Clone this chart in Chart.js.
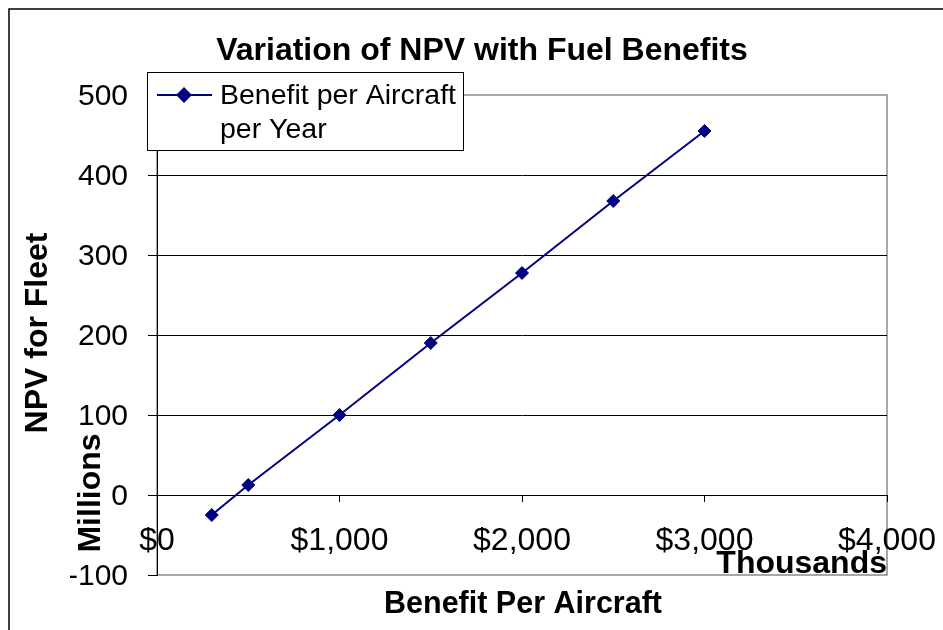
<!DOCTYPE html>
<html>
<head>
<meta charset="utf-8">
<script src="https://cdn.jsdelivr.net/npm/chart.js@4"></script>
<style>
  html, body { margin: 0; padding: 0; background: #ffffff; }
  #wrap { width: 943px; height: 630px; position: relative; }
</style>
</head>
<body>
<div id="wrap"><canvas id="npv" width="943" height="630"></canvas></div>
<script>
// Benefit per aircraft per year ($ thousands) and resulting fleet NPV ($ millions)
const benefitPerAircraft = [300, 500, 1000, 1500, 2000, 2500, 3000];
const npvForFleet = [-25, 12.5, 100, 190, 277.5, 367.5, 455];

// Axis ticks
const xTickValues = [0, 1000, 2000, 3000, 4000];
const yTickValues = [-100, 0, 100, 200, 300, 400, 500];

// Text
const chartTitle = 'Variation of NPV with Fuel Benefits';
const seriesNameLines = ['Benefit per Aircraft', 'per Year'];
const xTitle = 'Benefit Per Aircraft';
const xUnit = 'Thousands';
const yTitle = 'NPV for Fleet';
const yUnit = 'Millions';

const FONT = '"Liberation Sans", Arial, Helvetica, sans-serif';
const NAVY = '#000080';
const GREY = '#8a8a8a';
const Y_AXIS_WIDTH = 87;

const points = benefitPerAircraft.map((x, i) => ({ x: x, y: npvForFleet[i] }));

// Page background, outer frame and grey plot-area outline
const framePlugin = {
  id: 'frame',
  beforeDraw(chart) {
    const ctx = chart.ctx;
    const a = chart.chartArea;
    ctx.save();
    ctx.fillStyle = '#ffffff';
    ctx.fillRect(0, 0, chart.width, chart.height);
    ctx.strokeStyle = '#000000';
    ctx.lineWidth = 1.5;
    ctx.strokeRect(9, 9, chart.width + 40, chart.height + 40);
    ctx.strokeStyle = GREY;
    ctx.lineWidth = 1.5;
    ctx.strokeRect(a.left, a.top, a.right - a.left, a.bottom - a.top);
    ctx.restore();
  }
};

// Titles, unit captions and the boxed legend
const annotatePlugin = {
  id: 'annotate',
  afterDraw(chart) {
    const ctx = chart.ctx;
    ctx.save();
    ctx.fillStyle = '#000000';
    ctx.textBaseline = 'alphabetic';

    ctx.font = 'bold 32px ' + FONT;
    ctx.textAlign = 'center';
    ctx.fillText(chartTitle, 482, 60);

    ctx.font = 'bold 30.5px ' + FONT;
    ctx.fillText(xTitle, 523, 613);

    ctx.font = 'bold 32px ' + FONT;
    ctx.textAlign = 'right';
    ctx.fillText(xUnit, 887, 573);

    ctx.textAlign = 'center';
    ctx.save();
    ctx.translate(47, 333);
    ctx.rotate(-Math.PI / 2);
    ctx.fillText(yTitle, 0, 0);
    ctx.restore();

    ctx.save();
    ctx.translate(100, 493);
    ctx.rotate(-Math.PI / 2);
    ctx.fillText(yUnit, 0, 0);
    ctx.restore();

    // legend box
    const ds = chart.data.datasets[0];
    ctx.fillStyle = '#ffffff';
    ctx.fillRect(147, 72, 316, 78);
    ctx.strokeStyle = '#000000';
    ctx.lineWidth = 1;
    ctx.strokeRect(147.5, 72.5, 316, 78);

    ctx.strokeStyle = ds.borderColor;
    ctx.lineWidth = ds.borderWidth;
    ctx.beginPath();
    ctx.moveTo(157, 95);
    ctx.lineTo(212, 95);
    ctx.stroke();
    ctx.fillStyle = ds.pointBackgroundColor;
    Chart.helpers.drawPoint(ctx, {
      pointStyle: ds.pointStyle, radius: ds.pointRadius, borderWidth: 1, rotation: 0
    }, 184, 95);

    ctx.fillStyle = '#000000';
    ctx.font = '28.5px ' + FONT;
    ctx.textAlign = 'left';
    ctx.fillText(seriesNameLines[0], 220, 104);
    ctx.fillText(seriesNameLines[1], 220, 138);
    ctx.restore();
  }
};

new Chart(document.getElementById('npv'), {
  type: 'scatter',
  data: {
    datasets: [{
      label: seriesNameLines.join(' '),
      data: points,
      showLine: true,
      borderColor: NAVY,
      backgroundColor: NAVY,
      pointBackgroundColor: NAVY,
      pointBorderColor: NAVY,
      borderWidth: 2,
      pointStyle: 'rectRot',
      pointRadius: 6.5,
      pointBorderWidth: 1,
      tension: 0
    }]
  },
  options: {
    responsive: false,
    animation: false,
    devicePixelRatio: 1,
    layout: { padding: { left: 157 - Y_AXIS_WIDTH, top: 95, right: 56, bottom: 55 } },
    plugins: {
      legend: { display: false },
      title: { display: false },
      tooltip: { enabled: false }
    },
    scales: {
      x: {
        type: 'linear',
        position: { y: 0 },
        min: 0,
        max: 4000,
        afterFit(scale) {
          scale.height = 0;
          scale.paddingLeft = 0;
          scale.paddingRight = 0;
        },
        afterBuildTicks(scale) { scale.ticks = xTickValues.map(v => ({ value: v })); },
        grid: {
          drawOnChartArea: false,
          drawTicks: true,
          tickLength: 6,
          tickColor: '#000000',
          tickWidth: 1
        },
        border: { display: true, color: '#000000', width: 1 },
        ticks: {
          padding: 21,
          maxRotation: 0,
          autoSkip: false,
          color: '#000000',
          font: { family: FONT, size: 32 },
          callback: v => '$' + Number(v).toLocaleString('en-US')
        }
      },
      y: {
        type: 'linear',
        position: 'left',
        min: -100,
        max: 500,
        afterFit(scale) {
          scale.width = Y_AXIS_WIDTH;
          scale.paddingTop = 0;
          scale.paddingBottom = 0;
        },
        afterBuildTicks(scale) { scale.ticks = yTickValues.map(v => ({ value: v })); },
        grid: {
          color: ctx => (ctx.tick && (ctx.tick.value === 500 || ctx.tick.value === -100)) ? 'rgba(0,0,0,0)' : '#000000',
          lineWidth: 1,
          drawTicks: true,
          tickLength: 9,
          tickColor: '#000000',
          tickWidth: 1
        },
        border: { display: true, color: '#000000', width: 1 },
        ticks: {
          padding: 20,
          labelOffset: 2,
          autoSkip: false,
          color: '#000000',
          font: { family: FONT, size: 30 },
          callback: v => String(v)
        }
      }
    }
  },
  plugins: [framePlugin, annotatePlugin]
});
</script>
</body>
</html>
